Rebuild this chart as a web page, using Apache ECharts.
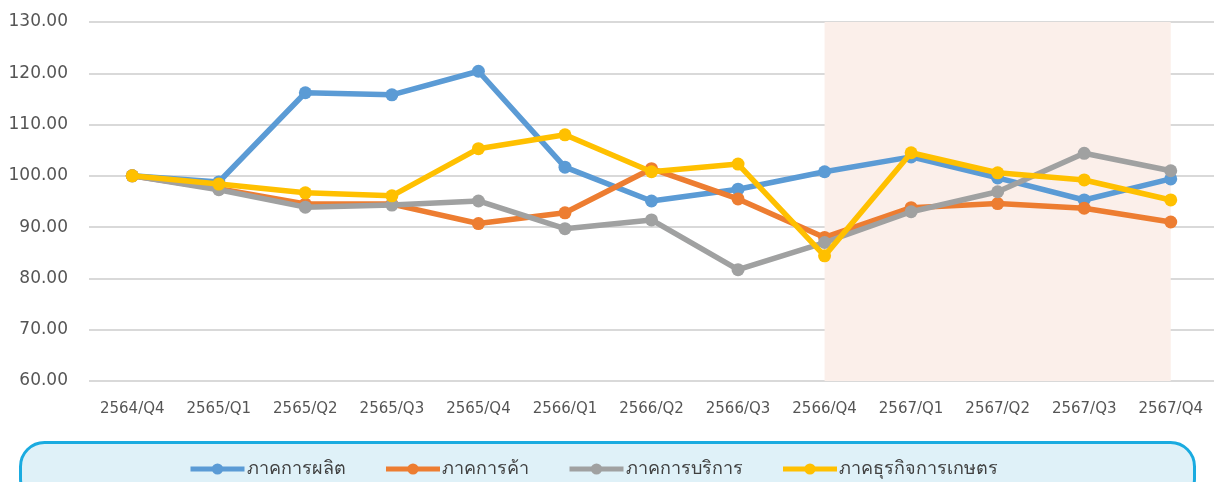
<!DOCTYPE html>
<html><head><meta charset="utf-8">
<script src="https://cdn.jsdelivr.net/npm/echarts@6/dist/echarts.min.js"></script>
<style>html,body{margin:0;padding:0;background:#fff}#c{width:1214px;height:482px}</style>
</head><body><div id="c"></div>
<script>
const categories = ['2564/Q4','2565/Q1','2565/Q2','2565/Q3','2565/Q4','2566/Q1','2566/Q2','2566/Q3','2566/Q4','2567/Q1','2567/Q2','2567/Q3','2567/Q4'];
const manufacturing = [100, 98.8, 116.2, 115.8, 120.4, 101.7, 95.1, 97.4, 100.8, 103.7, 99.6, 95.3, 99.4];
const trade = [100, 97.5, 94.5, 94.5, 90.7, 92.8, 101.4, 95.5, 88.0, 93.8, 94.6, 93.7, 91.0];
const services = [100, 97.3, 93.9, 94.3, 95.1, 89.7, 91.4, 81.7, 87.0, 93.0, 96.9, 104.4, 101.0];
const agribusiness = [100, 98.4, 96.7, 96.1, 105.3, 108.0, 100.8, 102.3, 84.4, 104.5, 100.6, 99.2, 95.3];
const seriesNames = ['ภาคการผลิต','ภาคการค้า','ภาคการบริการ','ภาคธุรกิจการเกษตร'];
const yTicks = {min: 60, max: 130, interval: 10};
const shadeRange = ['2566/Q4','2567/Q4'];

const colors = ['#5B9BD5','#ED7D31','#A0A1A1','#FFC000'];
const font = "'DejaVu Sans', 'Noto Sans', sans-serif";
const chart = echarts.init(document.getElementById('c'));
const mk = (name, data, i) => ({
  name, type: 'line', data, color: colors[i],
  symbol: 'circle', symbolSize: 13,
  lineStyle: {width: 5.5, color: colors[i]},
  itemStyle: {color: colors[i]},
  z: 3 + i,
  markArea: i === 0 ? {silent: true, itemStyle: {color: '#FBEFEA'},
    data: [[{xAxis: shadeRange[0]}, {xAxis: shadeRange[1]}]]} : undefined
});
chart.setOption({
  animation: false,
  textStyle: {fontFamily: font},
  graphic: [{type: 'rect', left: 19, top: 441, z: -1,
    shape: {width: 1174, height: 60, r: 24},
    style: {fill: '#DFF1F8', stroke: '#1AABE0', lineWidth: 3}}],
  grid: {left: 89, right: 0, top: 22, bottom: 101},
  legend: {top: 455, left: 183, itemWidth: 54, itemHeight: 14, itemGap: 38,
    lineStyle: {width: 5},
    textStyle: {fontSize: 18, color: '#404040', fontFamily: font, padding: [0, 0, 0, -3]},
    data: seriesNames
  },
  xAxis: {type: 'category', data: categories, boundaryGap: true,
    axisLine: {show: false}, axisTick: {show: false},
    axisLabel: {fontSize: 15, color: '#555', margin: 21}},
  yAxis: {type: 'value', min: yTicks.min, max: yTicks.max, interval: yTicks.interval,
    axisLine: {show: false}, axisTick: {show: false},
    axisLabel: {fontSize: 17, color: '#555', margin: 21, formatter: v => v.toFixed(2)},
    splitLine: {lineStyle: {color: '#D9D9D9', width: 2}}},
  series: [mk(seriesNames[0], manufacturing, 0), mk(seriesNames[1], trade, 1),
           mk(seriesNames[2], services, 2), mk(seriesNames[3], agribusiness, 3)]
});
</script></body></html>
